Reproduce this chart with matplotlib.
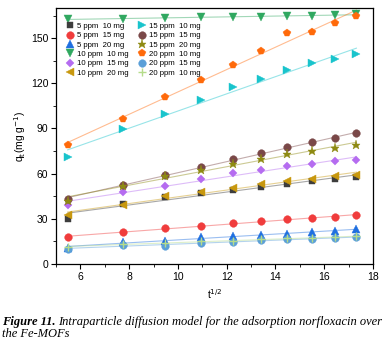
import numpy as np
import matplotlib
matplotlib.use("Agg")
import matplotlib.pyplot as plt

# ---- data ----
t_sqrt = np.sqrt(np.array([30, 60, 90, 120, 150, 180, 210, 240, 270, 300]))

labels = ["5 ppm  10 mg", "5 ppm  15 mg", "5 ppm  20 mg",
          "10 ppm  10 mg", "10 ppm  15 mg", "10 ppm  20 mg",
          "15 ppm  10 mg", "15 ppm  15 mg", "15 ppm  20 mg",
          "20 ppm  10 mg", "20 ppm  15 mg", "20 ppm  10 mg"]

s5_10 = [30.0, 40.0, 44.2, 47.4, 49.4, 51.1, 53.3, 54.9, 56.4, 57.7]
s5_15 = [17.7, 21.4, 23.6, 25.2, 27.0, 28.3, 29.6, 30.7, 31.4, 32.3]
s5_20 = [10.6, 14.6, 15.3, 17.9, 18.4, 19.5, 20.1, 21.0, 21.9, 23.0]
s10_10 = [162.6, 163.0, 163.4, 163.9, 164.0, 164.3, 164.8, 165.0, 165.2, 165.9]
s10_15 = [39.2, 47.6, 52.0, 56.6, 60.4, 62.4, 65.0, 66.4, 68.1, 68.8]
s10_20 = [32.3, 39.2, 45.1, 48.0, 50.7, 53.3, 55.1, 56.4, 58.4, 59.3]
s15_10 = [71.0, 89.8, 99.7, 108.8, 117.7, 123.0, 128.7, 133.4, 136.2, 139.2]
s15_15 = [43.0, 52.4, 59.0, 64.6, 69.7, 73.9, 77.4, 80.7, 83.4, 86.7]
s15_20 = [42.0, 52.0, 58.2, 62.6, 66.4, 69.7, 73.0, 75.0, 77.2, 79.2]
s20_10 = [78.8, 96.2, 111.0, 122.3, 132.0, 141.3, 153.5, 154.2, 160.1, 164.6]
s20_15 = [10.0, 12.6, 12.0, 14.1, 14.8, 15.7, 16.4, 16.8, 17.0, 17.7]
s20_10b = [11.0, 13.4, 14.0, 15.0, 15.5, 16.5, 17.0, 17.3, 17.6, 18.3]

series = [s5_10, s5_15, s5_20, s10_10, s10_15, s10_20,
          s15_10, s15_15, s15_20, s20_10, s20_15, s20_10b]

x_ticks = [6, 8, 10, 12, 14, 16, 18]
y_ticks = [0, 30, 60, 90, 120, 150]

# ---- style ----
colors = ['#3d3d3d', '#f03c3c', '#1f6fe0', '#30a860', '#b56cf0', '#c8980e',
          '#19c4cc', '#7a4848', '#8e8a12', '#ff6a0a', '#5a9fd8', '#b5dc8a']
markers = ['s', 'o', '^', 'v', 'D', '<', '>', 'o', '*', 'p', 'o', '+']
msizes = [4.5, 5.5, 5.5, 5.5, 4.5, 5.5, 5.5, 5.5, 6.5, 6.0, 5.5, 6.0]

plt.rcParams['font.family'] = ['Liberation Sans', 'DejaVu Sans']

fig = plt.figure(figsize=(3.87, 3.49), dpi=100)
ax = fig.add_axes([0.1447, 0.2436, 0.8191, 0.7334])

handles = []
for y, c, m, ms, lab in zip(series, colors, markers, msizes, labels):
    y = np.asarray(y)
    k, b = np.polyfit(t_sqrt, y, 1)
    ax.plot(t_sqrt, k * t_sqrt + b, '-', color=c, alpha=0.45, lw=0.8, zorder=1)
    h, = ax.plot(t_sqrt, y, linestyle='none', marker=m, color=c, ms=ms,
                 mew=1.0 if m == '+' else 0.3, mec=c, label=lab, zorder=3)
    handles.append(h)

ax.set_xlim(5, 18)
ax.set_ylim(0, 170)
ax.set_xticks(x_ticks)
ax.set_yticks(y_ticks)
ax.set_xticks(np.arange(5, 18.1, 1), minor=True)
ax.set_yticks(np.arange(0, 170, 15), minor=True)
ax.tick_params(axis='both', which='major', direction='out', length=3.5, width=0.8,
               labelsize=7.5, pad=2)
ax.tick_params(axis='both', which='minor', direction='out', length=2, width=0.6)
for sp in ax.spines.values():
    sp.set_linewidth(0.9)

ax.set_xlabel('t$^{1/2}$', fontsize=7.5, labelpad=4)
ax.set_ylabel('q$_{\\rm t}$(mg g$^{-1}$)', fontsize=7.5, labelpad=2)

leg = ax.legend(handles=handles, ncol=2, loc='upper left',
                bbox_to_anchor=(0.025, 0.955), frameon=False, fontsize=5.6,
                handlelength=0.8, handletextpad=0.5, columnspacing=1.3,
                labelspacing=0.24, borderaxespad=0.0)

cap_fs = 9.0
t1 = fig.text(0.005, 1 - 322 / 349, 'Figure 11.', fontsize=cap_fs,
              family='Liberation Serif', style='italic', weight='bold',
              va='center', ha='left')
fig.canvas.draw()
bb = t1.get_window_extent()
x2 = (bb.x1 + 3) / fig.bbox.width
fig.text(x2, 1 - 322 / 349,
         'Intraparticle diffusion model for the adsorption norfloxacin over',
         fontsize=cap_fs, family='Liberation Serif', style='italic', va='center', ha='left')
fig.text(0.005, 1 - 334 / 349, 'the Fe-MOFs', fontsize=cap_fs,
         family='Liberation Serif', style='italic', va='center', ha='left')

fig.savefig('out.png', dpi=100)
